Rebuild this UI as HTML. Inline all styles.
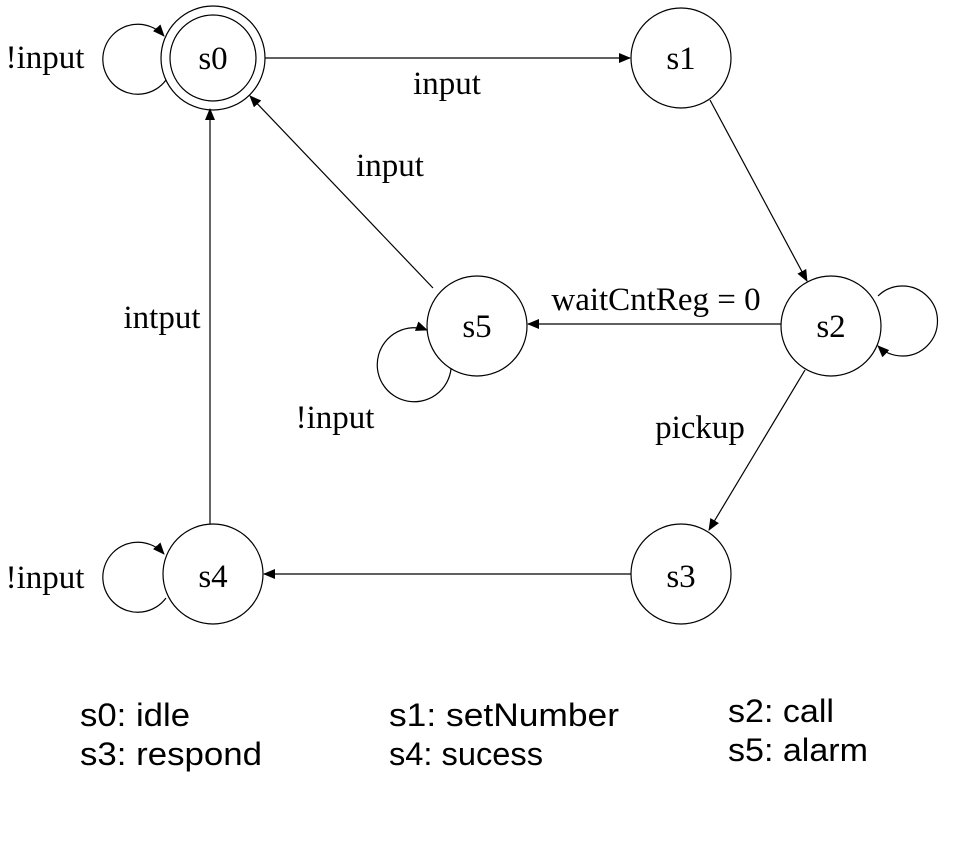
<!DOCTYPE html>
<html><head><meta charset="utf-8"><style>html,body{margin:0;padding:0;background:#fff}svg{display:block}</style></head>
<body>
<svg width="963" height="858" viewBox="0 0 963 858" xmlns="http://www.w3.org/2000/svg">
<defs><marker id="a" markerWidth="12" markerHeight="10" refX="11" refY="5" orient="auto" markerUnits="userSpaceOnUse"><path d="M0,0 L12,5 L0,10 z" fill="#000"/></marker></defs>
<g fill="none" stroke="#000" stroke-width="1.2">
<circle cx="213" cy="58" r="52"/><circle cx="213" cy="58" r="43"/>
<circle cx="681" cy="58" r="50"/>
<circle cx="831" cy="326" r="50"/>
<circle cx="477" cy="326" r="50"/>
<circle cx="681" cy="574" r="50"/>
<circle cx="213" cy="574" r="50"/>
<line x1="265" y1="58" x2="630" y2="58" marker-end="url(#a)"/>
<line x1="710" y1="100" x2="807" y2="281" marker-end="url(#a)"/>
<line x1="781" y1="324" x2="528" y2="324" marker-end="url(#a)"/>
<line x1="805" y1="370" x2="709" y2="530" marker-end="url(#a)"/>
<line x1="631" y1="574" x2="264" y2="574" marker-end="url(#a)"/>
<line x1="210" y1="524" x2="210" y2="109" marker-end="url(#a)"/>
<line x1="433" y1="288" x2="250" y2="96" marker-end="url(#a)"/>
<path d="M166,80 A35,35 0 1 1 164,36" marker-end="url(#a)"/>
<path d="M166,598 A35,35 0 1 1 164,554" marker-end="url(#a)"/>
<path d="M878,296 A35,35 0 1 1 878,346" marker-end="url(#a)"/>
<path d="M451,369 A37,37 0 1 1 427,330" marker-end="url(#a)"/>
</g>
<g font-family="Liberation Serif, serif" font-size="33" fill="#000" text-anchor="middle">
<text x="213" y="69">s0</text><text x="681" y="69">s1</text><text x="831" y="337">s2</text>
<text x="477" y="337">s5</text><text x="681" y="587">s3</text><text x="213" y="587">s4</text>
<text x="447" y="94">input</text><text x="390" y="176">input</text><text x="162" y="328">intput</text>
<text x="656" y="310">waitCntReg = 0</text><text x="700" y="438">pickup</text>
<text x="335" y="428">!input</text><text x="45" y="68">!input</text><text x="45" y="588">!input</text>
</g>
<g font-family="Liberation Sans, sans-serif" font-size="32" fill="#000">
<text x="80" y="726" textLength="110" lengthAdjust="spacingAndGlyphs">s0: idle</text>
<text x="80" y="765" textLength="182" lengthAdjust="spacingAndGlyphs">s3: respond</text>
<text x="389" y="726" textLength="230" lengthAdjust="spacingAndGlyphs">s1: setNumber</text>
<text x="389" y="765" textLength="154" lengthAdjust="spacingAndGlyphs">s4: sucess</text>
<text x="728" y="722" textLength="106" lengthAdjust="spacingAndGlyphs">s2: call</text>
<text x="728" y="761" textLength="140" lengthAdjust="spacingAndGlyphs">s5: alarm</text>
</g>
</svg>
</body></html>
